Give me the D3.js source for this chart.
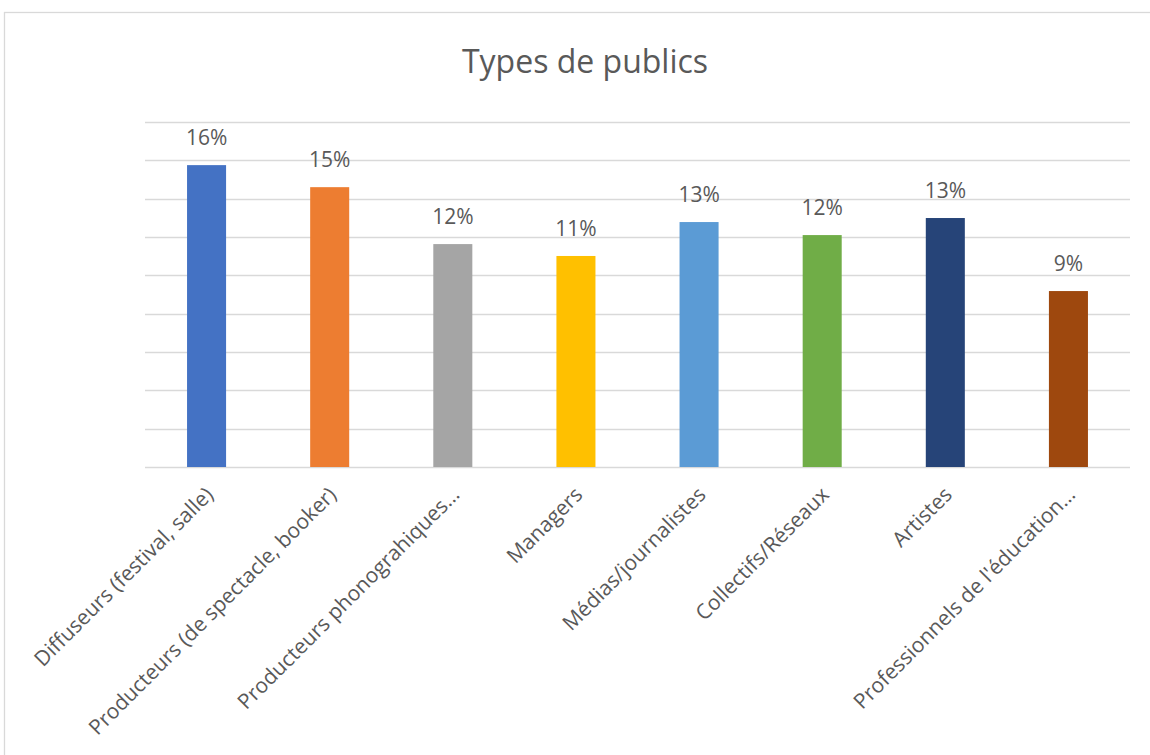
<!DOCTYPE html>
<html>
<head>
<meta charset="utf-8">
<script src="https://cdn.jsdelivr.net/npm/d3@7"></script>
<style>
  body { margin: 0; background: #fff; }
  text { font-family: "Open Sans", sans-serif; fill: #595959; }
</style>
</head>
<body>
<div id="chart"></div>
<script>
var categories = [
  "Diffuseurs (festival, salle)",
  "Producteurs (de spectacle, booker)",
  "Producteurs phonograhiques…",
  "Managers",
  "Médias/journalistes",
  "Collectifs/Réseaux",
  "Artistes",
  "Professionnels de l'éducation…"
];
var values = [0.1575, 0.146, 0.1163, 0.1101, 0.1278, 0.121, 0.1299, 0.0918];
var colors = ["#4472C4", "#ED7D31", "#A5A5A5", "#FFC000", "#5B9BD5", "#70AD47", "#264478", "#9E480E"];
var gridTicks = [0, 0.02, 0.04, 0.06, 0.08, 0.10, 0.12, 0.14, 0.16, 0.18];

var width = 1150, height = 755;
var plot = { left: 145, right: 1130, top: 122, bottom: 467 };

var svg = d3.select("#chart")
  .append("svg")
  .attr("width", width)
  .attr("height", height);

// chart frame
svg.append("rect")
  .attr("x", 4.5).attr("y", 12.5)
  .attr("width", 1160).attr("height", 770)
  .attr("fill", "#fff")
  .attr("stroke", "#d9d9d9")
  .attr("stroke-width", 1.3);

var x = d3.scaleBand()
  .domain(categories)
  .range([plot.left, plot.right])
  .paddingInner(0.683)
  .paddingOuter(0.3415);

var y = d3.scaleLinear()
  .domain([0, 0.18])
  .range([plot.bottom, plot.top]);

svg.append("text")
  .attr("x", 585)
  .attr("y", 73)
  .attr("text-anchor", "middle")
  .style("font-size", "32px")
  .text("Types de publics");

// gridlines
svg.append("g")
  .selectAll("line")
  .data(gridTicks)
  .enter()
  .append("line")
  .attr("x1", plot.left)
  .attr("x2", plot.right)
  .attr("y1", function(d) { return Math.round(y(d)) + 0.5; })
  .attr("y2", function(d) { return Math.round(y(d)) + 0.5; })
  .attr("stroke", "#d9d9d9")
  .attr("stroke-width", 1.5);

svg.append("g")
  .selectAll("rect")
  .data(values)
  .enter()
  .append("rect")
  .attr("x", function(d, i) { return x(categories[i]); })
  .attr("y", function(d) { return y(d); })
  .attr("width", x.bandwidth())
  .attr("height", function(d) { return y(0) - y(d); })
  .attr("fill", function(d, i) { return colors[i]; });

var fmt = d3.format(".0%");
svg.append("g")
  .selectAll("text")
  .data(values)
  .enter()
  .append("text")
  .attr("x", function(d, i) { return x(categories[i]) + x.bandwidth() / 2; })
  .attr("y", function(d) { return y(d) - 20; })
  .attr("text-anchor", "middle")
  .style("font-size", "21px")
  .text(function(d) { return fmt(d); });

// category labels, rotated
svg.append("g")
  .selectAll("text")
  .data(categories)
  .enter()
  .append("text")
  .attr("transform", function(d) {
    var cx = x(d) + x.bandwidth() / 2;
    return "translate(" + (cx + 8) + "," + (plot.bottom + 29) + ") rotate(-45)";
  })
  .attr("text-anchor", "end")
  .style("font-size", "21px")
  .text(function(d) { return d; });
</script>
</body>
</html>
